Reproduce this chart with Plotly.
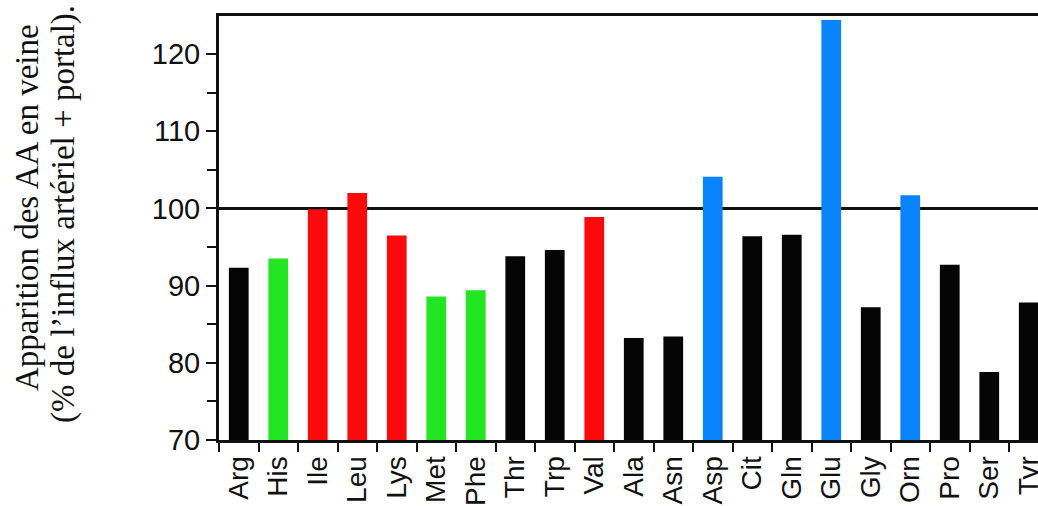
import plotly.graph_objects as go

categories = ["Arg", "His", "Ile", "Leu", "Lys", "Met", "Phe", "Thr", "Trp", "Val",
              "Ala", "Asn", "Asp", "Cit", "Gln", "Glu", "Gly", "Orn", "Pro", "Ser", "Tyr"]
values = [92.3, 93.5, 99.9, 102.0, 96.5, 88.6, 89.4, 93.8, 94.6, 98.9,
          83.2, 83.4, 104.1, 96.4, 96.6, 124.4, 87.2, 101.7, 92.7, 78.8, 87.8]
groups = ["k", "g", "r", "r", "r", "g", "g", "k", "k", "r",
          "k", "k", "b", "k", "k", "b", "k", "b", "k", "k", "k"]
palette = {"k": "#050505", "g": "#22E622", "r": "#FA0A0A", "b": "#0A84FA"}
colors = [palette[g] for g in groups]
y_title_lines = ["Apparition des AA en veine", "(% de l’influx artériel + portal)."]
ref_value = 100

W, H = 1038, 506
ml, mr, mt, mb = 219, 0, 16, 66
slot = 39.5
px_per_unit = 7.72

fig = go.Figure()
fig.add_trace(go.Bar(
    x=categories, y=values,
    marker=dict(color=colors, line=dict(width=0)),
    width=0.5,
))

x_hi = -0.5 + (W - ml - mr) / slot
y_hi = 70 + (H - mt - mb) / px_per_unit

fig.update_layout(
    width=W, height=H,
    margin=dict(l=ml, r=mr, t=mt, b=mb, pad=0),
    paper_bgcolor="white", plot_bgcolor="white",
    showlegend=False,
    font=dict(family="Arial, Liberation Sans, sans-serif", color="#111111"),
    xaxis=dict(
        type="category", range=[-0.5, x_hi], autorange=False,
        showgrid=False, zeroline=False,
        showline=True, linewidth=3, linecolor="#111111", mirror=True,
        ticks="outside", ticklen=9, tickwidth=2, tickcolor="#111111",
        tickson="boundaries",
        tickangle=-90,
        tickfont=dict(size=28, family="Arial, Liberation Sans, sans-serif", color="#111111"),
        ticklabelstandoff=2,
        automargin=False,
    ),
    yaxis=dict(
        range=[70, y_hi], autorange=False,
        tickvals=[70, 80, 90, 100, 110, 120],
        showgrid=False, zeroline=False,
        showline=True, linewidth=3, linecolor="#111111",
        ticks="outside", ticklen=10, tickwidth=2, tickcolor="#111111",
        minor=dict(tickvals=[75, 85, 95, 105, 115], ticks="outside", ticklen=9,
                   tickwidth=2, tickcolor="#111111", showgrid=False),
        tickfont=dict(size=29, family="Arial, Liberation Sans, sans-serif", color="#111111"),
        ticklabelstandoff=0,
        automargin=False,
    ),
)

fig.add_shape(type="line", xref="paper", yref="y", x0=0, x1=1,
              y0=ref_value, y1=ref_value, line=dict(color="#111111", width=3),
              layer="below")

pw = W - ml - mr
ph = H - mt - mb
for text, cx, cy in [(y_title_lines[0], 27, 208), (y_title_lines[1], 64, 214)]:
    fig.add_annotation(
        text=text, textangle=-90, showarrow=False,
        xref="paper", yref="paper",
        x=(cx - ml) / pw, y=(H - mb - cy) / ph,
        xanchor="center", yanchor="middle", align="center",
        font=dict(family="Liberation Serif, Times New Roman, serif", size=33, color="#111111"),
    )

fig.write_html("out.html", config={"displayModeBar": False},
               post_script="document.body.style.margin='0';document.body.style.overflow='hidden';")
